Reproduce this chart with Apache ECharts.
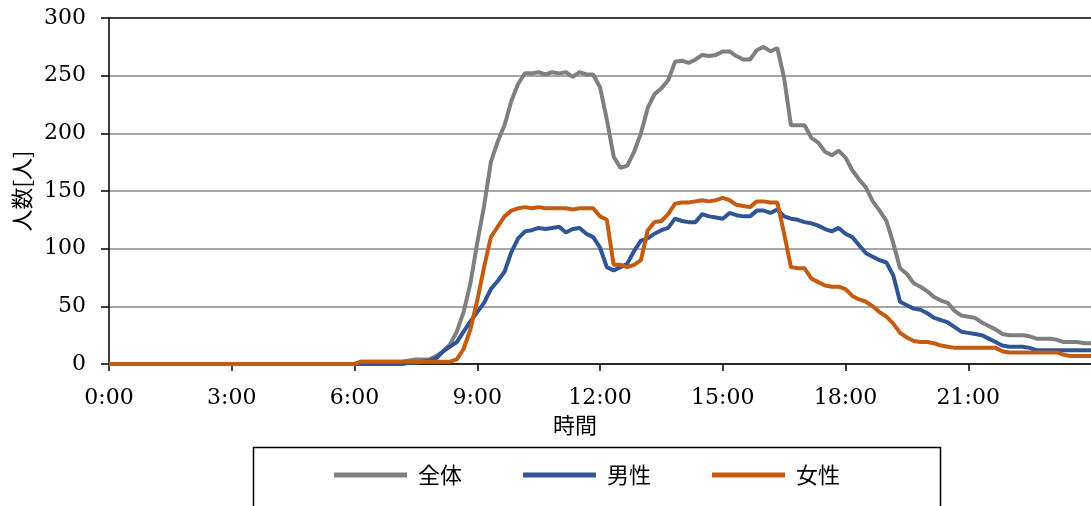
<!DOCTYPE html>
<html>
<head>
<meta charset="utf-8">
<script src="https://cdn.jsdelivr.net/npm/echarts@6/dist/echarts.min.js"></script>
<style>html,body{margin:0;padding:0;background:#fff}#c{width:1091px;height:506px}</style>
</head>
<body>
<div id="c"></div>
<script>
// time step: 10 minutes, 0:00 .. 24:00 (145 points)
const stepMinutes = 10;
const seriesNames = ['全体', '男性', '女性'];
const yTicks = [0, 50, 100, 150, 200, 250, 300];
const xTickLabels = ['0:00','3:00','6:00','9:00','12:00','15:00','18:00','21:00'];

const totalAll = [
 0,0,0,0,0,0, 0,0,0,0,0,0, 0,0,0,0,0,0, 0,0,0,0,0,0, 0,0,0,0,0,0, 0,0,0,0,0,0,
 0,2,2,2,2,2, 2,2,3,4,4,4,
 7,11,17,28,45,70, 105,137,175,193,207,228,
 243,252,252,253,251,253, 252,253,249,253,251,251,
 240,212,180,170,172,184, 200,222,234,239,246,262,
 263,261,264,268,267,268, 271,271,267,264,264,272,
 275,271,274,248,207,207, 207,196,192,184,181,185,
 179,168,160,153,141,133, 124,105,83,78,70,67,
 63,58,55,53,46,42, 41,40,36,33,30,26,
 25,25,25,24,22,22, 22,21,19,19,19,18,
 18
];
const male = [
 0,0,0,0,0,0, 0,0,0,0,0,0, 0,0,0,0,0,0, 0,0,0,0,0,0, 0,0,0,0,0,0, 0,0,0,0,0,0,
 0,0,0,0,0,0, 0,0,1,1,2,3,
 5,11,15,19,28,37, 45,53,65,72,80,97,
 109,115,116,118,117,118, 119,114,117,118,113,110,
 101,84,81,84,87,98, 107,109,113,116,118,126,
 124,123,123,130,128,127, 126,131,129,128,128,133,
 133,131,134,128,126,125, 123,122,120,117,115,118,
 113,110,103,96,93,90, 88,77,54,51,48,47,
 44,40,38,36,32,28, 27,26,25,22,19,16,
 15,15,15,14,12,12, 12,12,12,12,12,12,
 12
];
const female = [
 0,0,0,0,0,0, 0,0,0,0,0,0, 0,0,0,0,0,0, 0,0,0,0,0,0, 0,0,0,0,0,0, 0,0,0,0,0,0,
 0,2,2,2,2,2, 2,2,2,2,2,2,
 2,2,2,4,13,30, 55,84,110,119,128,133,
 135,136,135,136,135,135, 135,135,134,135,135,135,
 128,125,86,86,84,86, 90,116,123,124,130,139,
 140,140,141,142,141,142, 144,142,138,137,136,141,
 141,140,140,113,84,83, 83,74,71,68,67,67,
 65,59,56,54,50,45, 41,35,27,23,20,19,
 19,18,16,15,14,14, 14,14,14,14,14,11,
 10,10,10,10,10,10, 10,10,8,7,7,7,
 7
];
const colors = ['#7f7f7f', '#2f5597', '#c55a11'];

function pairs(vals){ return vals.map((v,i)=>[i*stepMinutes, v]); }

const chart = echarts.init(document.getElementById('c'));
const serif = 'DejaVu Serif';
const cjk = 'Noto Sans CJK JP';
chart.setOption({
  animation: false,
  backgroundColor: '#fff',
  grid: { left: 109, right: -4, top: 18, bottom: 142, containLabel: false },
  xAxis: {
    type: 'value', min: 0, max: 1440, interval: 180,
    axisLine: { show: true, lineStyle: { color: '#000', width: 1.5 } },
    axisTick: { show: true, length: 7, lineStyle: { color: '#000', width: 1.5 } },
    axisLabel: { margin: 23, color: '#000', fontFamily: serif, fontSize: 22,
      showMaxLabel: false,
      formatter: v => xTickLabels[Math.round(v/180)] || '' },
    splitLine: { show: false }
  },
  yAxis: {
    type: 'value', min: 0, max: 300, interval: 50,
    name: '人数[人]', nameLocation: 'middle', nameGap: 66, nameRotate: 90,
    nameTextStyle: { fontFamily: cjk, fontSize: 22, color: '#000' },
    axisLine: { show: true, lineStyle: { color: '#000', width: 1.5 } },
    axisTick: { show: true, inside: false, length: 8, lineStyle: { color: '#000', width: 1.5 } },
    axisLabel: { margin: 23, color: '#000', fontFamily: serif, fontSize: 22,
      formatter: v => String(yTicks[Math.round(v/50)]) },
    splitLine: { show: true, lineStyle: { color: ['#888','#888','#888','#888','#888','#888','#000'], width: 1.5 } }
  },
  legend: {
    data: seriesNames, left: 329, top: 459, icon: 'rect',
    itemWidth: 73, itemHeight: 5, itemGap: 61,
    textStyle: { fontFamily: cjk, fontSize: 22, color: '#000', padding: [0,0,0,6] }
  },
  graphic: [
    { type: 'rect', shape: { x: 253.5, y: 447.5, width: 687, height: 80 },
      style: { fill: 'none', stroke: '#000', lineWidth: 1.5 }, silent: true },
    { type: 'text', x: 575, y: 414,
      style: { text: '時間', fontFamily: cjk, fontSize: 22, fill: '#000', textAlign: 'center' } }
  ],
  series: [
    { name: seriesNames[0], type: 'line', data: pairs(totalAll), showSymbol: false, symbol: 'none',
      lineStyle: { color: colors[0], width: 4 }, itemStyle: { color: colors[0] }, z: 2 },
    { name: seriesNames[1], type: 'line', data: pairs(male), showSymbol: false, symbol: 'none',
      lineStyle: { color: colors[1], width: 4 }, itemStyle: { color: colors[1] }, z: 3 },
    { name: seriesNames[2], type: 'line', data: pairs(female), showSymbol: false, symbol: 'none',
      lineStyle: { color: colors[2], width: 4 }, itemStyle: { color: colors[2] }, z: 4 }
  ]
});
</script>
</body>
</html>
